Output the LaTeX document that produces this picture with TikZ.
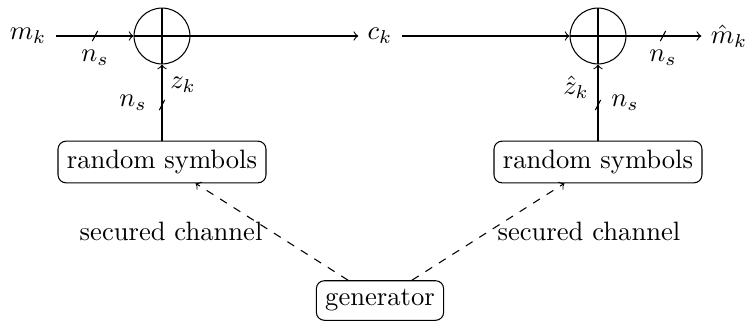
\documentclass[tikz,border=0pt]{standalone}
\usetikzlibrary{arrows}
\begin{document}
\begin{tikzpicture}[x=0.013215cm,y=-0.013215cm,
  sumnode/.style={circle,draw,minimum size=21pt,inner sep=0pt},
  blockbox/.style={draw,rounded corners=3pt},
  ticktext/.style={inner sep=1pt},
  arr/.style={->},
  secarr/.style={->,dashed}]
\useasboundingbox (0,0) rectangle (747,321);
% nodes
\node (mk) at (28,36) {$m_k$};
\node[sumnode] (c1) at (162,36) {};
\node (ck) at (380,36) {$c_k$};
\node[sumnode] (c2) at (598,36) {};
\node (mh) at (729,36) {$\hat{m}_k$};
\node[blockbox] (rs1) at (162,162) {random symbols};
\node[blockbox] (rs2) at (598,162) {random symbols};
\node[blockbox] (gen) at (380,300.5) {generator};
% crosses in the sums
\draw (c1.north) -- (c1.south);
\draw (c1.west) -- (c1.east);
\draw (c2.north) -- (c2.south);
\draw (c2.west) -- (c2.east);
% connectors
\draw[arr] (mk) -- (c1);
\draw[arr] (c1) -- (ck);
\draw[arr] (ck) -- (c2);
\draw[arr] (c2) -- (mh);
\draw[arr] (rs1) -- (c1);
\draw[arr] (rs2) -- (c2);
\draw[secarr] (gen) -- (rs1) node[midway,left] {secured channel};
\draw[secarr] (gen) -- (rs2) node[midway,right] {secured channel};
% bus ticks
\coordinate (t1) at (95,36);
\coordinate (t2) at (162,105);
\coordinate (t3) at (598,105);
\coordinate (t4) at (663,36);
\foreach \t in {t1,t2,t3,t4}
  \draw ([shift={(-1pt,-1.9pt)}]\t) -- ([shift={(1pt,1.9pt)}]\t);
% labels
\node (ns1) at (95,58) {$n_s$};
\node (ns2) at (133,103) {$n_s$};
\node (zk) at (183,85) {$z_k$};
\node (zh) at (576,87) {$\hat{z}_k$};
\node (ns3) at (625,103) {$n_s$};
\node (ns4) at (663,58) {$n_s$};
\end{tikzpicture}
\end{document}
